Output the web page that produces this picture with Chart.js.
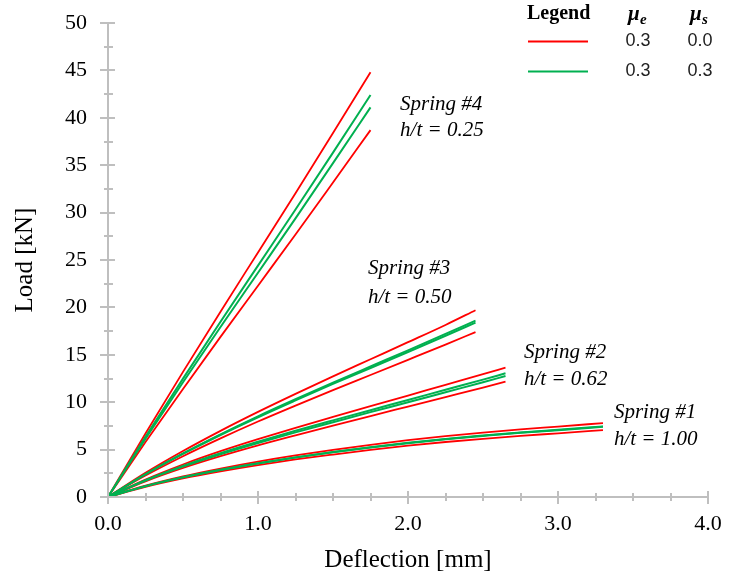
<!DOCTYPE html>
<html>
<head>
<meta charset="utf-8">
<script src="https://cdn.jsdelivr.net/npm/chart.js@4/dist/chart.umd.min.js"></script>
<style>
  html, body { margin: 0; padding: 0; background: #ffffff; }
  #wrap { width: 744px; height: 578px; }
</style>
</head>
<body>
<div id="wrap"><canvas id="c" width="744" height="578"></canvas></div>
<script>
// ---------- data ----------
const deflS1 = [0, 0.25, 0.5, 0.75, 1.0, 1.25, 1.5, 1.75, 2.0, 2.25, 2.5, 2.75, 3.0, 3.3];
const deflS2 = [0, 0.25, 0.5, 0.75, 1.0, 1.25, 1.5, 1.75, 2.0, 2.25, 2.5, 2.65];
const deflS3 = [0, 0.25, 0.5, 0.75, 1.0, 1.25, 1.5, 1.75, 2.0, 2.25, 2.45];
const deflS4 = [0, 0.25, 0.5, 0.75, 1.0, 1.25, 1.5, 1.75];

// mu_e = 0.3, mu_s = 0.0 (red, upper / lower branch)
const s1RedUpper = [0, 1.2, 2.18, 3.0, 3.73, 4.38, 4.96, 5.5, 5.99, 6.42, 6.79, 7.13, 7.43, 7.8];
const s1RedLower = [0, 1.08, 1.97, 2.71, 3.37, 3.96, 4.48, 4.97, 5.41, 5.8, 6.14, 6.45, 6.72, 7.05];
const s2RedUpper = [0, 1.85, 3.43, 4.83, 6.1, 7.3, 8.45, 9.58, 10.7, 11.83, 12.95, 13.65];
const s2RedLower = [0, 1.65, 3.06, 4.3, 5.44, 6.5, 7.53, 8.54, 9.54, 10.54, 11.54, 12.16];
const s3RedUpper = [0, 2.55, 4.85, 6.98, 8.98, 10.88, 12.73, 14.53, 16.33, 18.15, 19.7];
const s3RedLower = [0, 2.26, 4.3, 6.18, 7.96, 9.64, 11.28, 12.87, 14.47, 16.08, 17.4];
const s4RedUpper = [0, 6.7, 13.2, 19.55, 25.8, 32.05, 38.4, 44.8];
const s4RedLower = [0, 5.79, 11.4, 16.89, 22.29, 27.69, 33.18, 38.7];

// mu_e = 0.3, mu_s = 0.3 (green, upper / lower branch)
const s1GreenUpper = [0, 1.15, 2.08, 2.87, 3.56, 4.18, 4.74, 5.25, 5.72, 6.13, 6.48, 6.81, 7.1, 7.45];
const s1GreenLower = [0, 1.14, 2.07, 2.85, 3.54, 4.16, 4.71, 5.22, 5.68, 6.09, 6.44, 6.77, 7.05, 7.4];
const s2GreenUpper = [0, 1.77, 3.28, 4.62, 5.83, 6.98, 8.08, 9.16, 10.23, 11.31, 12.38, 13.05];
const s2GreenLower = [0, 1.73, 3.2, 4.51, 5.7, 6.82, 7.89, 8.95, 9.99, 11.05, 12.1, 12.76];
const s3GreenUpper = [0, 2.42, 4.6, 6.61, 8.51, 10.31, 12.06, 13.77, 15.47, 17.2, 18.6];
const s3GreenLower = [0, 2.39, 4.54, 6.54, 8.41, 10.19, 11.93, 13.61, 15.3, 17.01, 18.39];
const s4GreenUpper = [0, 6.34, 12.49, 18.49, 24.41, 30.32, 36.33, 42.4];
const s4GreenLower = [0, 6.14, 12.1, 17.93, 23.66, 29.39, 35.22, 41.1];

const xTickValues = [0, 1, 2, 3, 4];
const yTickValues = [0, 5, 10, 15, 20, 25, 30, 35, 40, 45, 50];
const xTitle = 'Deflection [mm]';
const yTitle = 'Load [kN]';

const springNames = ['Spring #1', 'Spring #2', 'Spring #3', 'Spring #4'];
const springRatios = ['h/t = 1.00', 'h/t = 0.62', 'h/t = 0.50', 'h/t = 0.25'];

const legendTitle = 'Legend';
const legendMuE = ['0.3', '0.3'];
const legendMuS = ['0.0', '0.3'];

// ---------- build ----------
const RED = '#ff0000';
const GREEN = '#00b050';
function pts(xs, ys) { return xs.map((x, i) => ({ x: x, y: ys[i] })); }
function ds(xs, ys, color, w) {
  return { data: pts(xs, ys), borderColor: color, borderWidth: w, pointRadius: 0,
           fill: false, tension: 0.35, cubicInterpolationMode: 'monotone', showLine: true };
}
const datasets = [
  ds(deflS1, s1GreenUpper, GREEN, 2), ds(deflS1, s1GreenLower, GREEN, 2),
  ds(deflS2, s2GreenUpper, GREEN, 2), ds(deflS2, s2GreenLower, GREEN, 2),
  ds(deflS3, s3GreenUpper, GREEN, 2), ds(deflS3, s3GreenLower, GREEN, 2),
  ds(deflS4, s4GreenUpper, GREEN, 2), ds(deflS4, s4GreenLower, GREEN, 2),
  ds(deflS1, s1RedUpper, RED, 1.8), ds(deflS1, s1RedLower, RED, 1.8),
  ds(deflS2, s2RedUpper, RED, 1.8), ds(deflS2, s2RedLower, RED, 1.8),
  ds(deflS3, s3RedUpper, RED, 1.8), ds(deflS3, s3RedLower, RED, 1.8),
  ds(deflS4, s4RedUpper, RED, 1.8), ds(deflS4, s4RedLower, RED, 1.8)
];

const AXIS = '#bfbfbf';
const SERIF = "'Liberation Serif', 'Times New Roman', serif";
const SANS = "'Liberation Sans', Arial, sans-serif";

const decoPlugin = {
  id: 'deco',
  afterDraw(chart) {
    const ctx = chart.ctx;
    const xs = chart.scales.x, ys = chart.scales.y;
    const x0 = xs.getPixelForValue(0), y0 = ys.getPixelForValue(0);
    ctx.save();
    ctx.strokeStyle = AXIS;
    ctx.lineWidth = 2;
    // y-axis ticks (major every 5, minor every 2.5)
    for (let v = 0; v <= 50.001; v += 2.5) {
      const py = Math.round(ys.getPixelForValue(v));
      const major = Math.abs(v % 5) < 1e-6;
      ctx.beginPath();
      ctx.moveTo(x0 - (major ? 8 : 4), py);
      ctx.lineTo(x0 + (major ? 7 : 5), py);
      ctx.stroke();
    }
    // x-axis ticks (major every 1, minor every 0.25)
    for (let v = 0; v <= 4.0001; v += 0.25) {
      const px = Math.round(xs.getPixelForValue(v));
      const major = Math.abs(v % 1) < 1e-6;
      ctx.beginPath();
      ctx.moveTo(px, y0 - (major ? 6 : 4));
      ctx.lineTo(px, y0 + (major ? 7 : 4));
      ctx.stroke();
    }
    // spring annotations
    const anchors = [[3.373, 8.9, 6.1], [2.773, 15.2, 12.4], [1.733, 24.1, 21.0], [1.947, 41.4, 38.7]];
    ctx.fillStyle = '#000';
    ctx.font = 'italic 21px ' + SERIF;
    ctx.textAlign = 'left';
    ctx.textBaseline = 'middle';
    anchors.forEach((a, i) => {
      const px = xs.getPixelForValue(a[0]);
      ctx.fillText(springNames[i], px, ys.getPixelForValue(a[1]));
      ctx.fillText(springRatios[i], px, ys.getPixelForValue(a[2]));
    });
    // legend
    ctx.textAlign = 'left';
    ctx.font = 'bold 20px ' + SERIF;
    ctx.fillText(legendTitle, 527, 14);
    ctx.font = 'bold italic 21px ' + SERIF;
    ctx.fillText('\u03bc', 628, 15);
    ctx.fillText('\u03bc', 690, 15);
    ctx.font = 'bold italic 15px ' + SERIF;
    ctx.fillText('e', 640, 20);
    ctx.fillText('s', 702, 20);
    const rowY = [41.5, 71.5];
    const rowC = [RED, GREEN];
    rowY.forEach((ry, i) => {
      ctx.strokeStyle = rowC[i];
      ctx.lineWidth = 2;
      ctx.beginPath();
      ctx.moveTo(528, ry);
      ctx.lineTo(588, ry);
      ctx.stroke();
      ctx.fillStyle = '#222';
      ctx.font = '18px ' + SANS;
      ctx.textAlign = 'center';
      ctx.fillText(legendMuE[i], 638, ry);
      ctx.fillText(legendMuS[i], 700, ry);
    });
    ctx.restore();
  }
};

new Chart(document.getElementById('c'), {
  type: 'scatter',
  data: { datasets: datasets },
  options: {
    responsive: false,
    devicePixelRatio: 1,
    animation: false,
    layout: { padding: { left: 0, right: 36, top: 23, bottom: 0 } },
    plugins: { legend: { display: false }, tooltip: { enabled: false } },
    scales: {
      x: {
        type: 'linear', min: 0, max: 4,
        afterFit(s) { s.height = 81; s.paddingLeft = 0; s.paddingRight = 0; },
        afterBuildTicks(s) { s.ticks = xTickValues.map(v => ({ value: v })); },
        grid: { display: false, drawTicks: false },
        border: { display: true, color: AXIS, width: 2 },
        ticks: { color: '#000', padding: 14, font: { family: SERIF, size: 22 },
                 callback: v => Number(v).toFixed(1), maxRotation: 0 },
        title: { display: true, text: xTitle, color: '#000', font: { family: SERIF, size: 25 },
                 padding: { top: 0, bottom: 3 } }
      },
      y: {
        type: 'linear', min: 0, max: 50,
        afterFit(s) { s.width = 108; s.paddingTop = 0; s.paddingBottom = 0; },
        afterBuildTicks(s) { s.ticks = yTickValues.map(v => ({ value: v })); },
        grid: { display: false, drawTicks: false },
        border: { display: true, color: AXIS, width: 2 },
        ticks: { color: '#000', padding: 21, font: { family: SERIF, size: 22 },
                 callback: v => String(v) },
        title: { display: true, text: yTitle, color: '#000', font: { family: SERIF, size: 25 },
                 padding: { top: 10, bottom: 0 } }
      }
    }
  },
  plugins: [decoPlugin]
});
</script>
</body>
</html>
